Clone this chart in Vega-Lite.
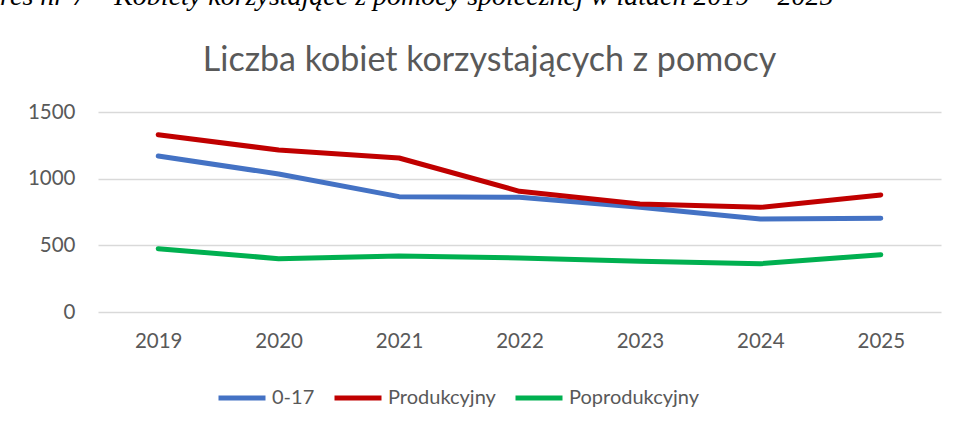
{
  "$schema": "https://vega.github.io/schema/vega-lite/v6.json",
  "width": 843,
  "height": 200,
  "autosize": {"type": "none"},
  "padding": {"left": 98, "top": 112, "right": 16, "bottom": 116},
  "background": "white",
  "data": {
    "values": [
      {"rok": "2019", "grupa": "0-17", "wartosc": 1170},
      {"rok": "2020", "grupa": "0-17", "wartosc": 1035},
      {"rok": "2021", "grupa": "0-17", "wartosc": 865},
      {"rok": "2022", "grupa": "0-17", "wartosc": 860},
      {"rok": "2023", "grupa": "0-17", "wartosc": 785},
      {"rok": "2024", "grupa": "0-17", "wartosc": 698},
      {"rok": "2025", "grupa": "0-17", "wartosc": 703},
      {"rok": "2019", "grupa": "Produkcyjny", "wartosc": 1330},
      {"rok": "2020", "grupa": "Produkcyjny", "wartosc": 1215},
      {"rok": "2021", "grupa": "Produkcyjny", "wartosc": 1155},
      {"rok": "2022", "grupa": "Produkcyjny", "wartosc": 905},
      {"rok": "2023", "grupa": "Produkcyjny", "wartosc": 810},
      {"rok": "2024", "grupa": "Produkcyjny", "wartosc": 785},
      {"rok": "2025", "grupa": "Produkcyjny", "wartosc": 878},
      {"rok": "2019", "grupa": "Poprodukcyjny", "wartosc": 475},
      {"rok": "2020", "grupa": "Poprodukcyjny", "wartosc": 400},
      {"rok": "2021", "grupa": "Poprodukcyjny", "wartosc": 420},
      {"rok": "2022", "grupa": "Poprodukcyjny", "wartosc": 405},
      {"rok": "2023", "grupa": "Poprodukcyjny", "wartosc": 380},
      {"rok": "2024", "grupa": "Poprodukcyjny", "wartosc": 362},
      {"rok": "2025", "grupa": "Poprodukcyjny", "wartosc": 430}
    ]
  },
  "mark": {"type": "line", "strokeWidth": 5, "strokeCap": "round", "strokeJoin": "round"},
  "encoding": {
    "x": {
      "field": "rok",
      "type": "ordinal",
      "scale": {"type": "point", "padding": 0.5},
      "axis": {
        "title": "Wykres nr 7 – Kobiety korzystające z pomocy społecznej w latach 2019 – 2025",
        "titleFont": "Liberation Serif",
        "titleFontStyle": "italic",
        "titleFontWeight": "normal",
        "titleFontSize": 28,
        "titleColor": "black",
        "titleX": 735,
        "titleY": -308,
        "titleAlign": "right",
        "titleBaseline": "alphabetic",
        "labelAngle": 0,
        "labelFont": "Lato",
        "labelFontSize": 20.5,
        "labelColor": "#595959",
        "labelPadding": 19,
        "ticks": false,
        "domain": false,
        "grid": false
      }
    },
    "y": {
      "field": "wartosc",
      "type": "quantitative",
      "scale": {"domain": [0, 1500]},
      "axis": {
        "title": "Liczba kobiet korzystających z pomocy",
        "titleFont": "Lato",
        "titleFontSize": 34,
        "titleFontWeight": "normal",
        "titleColor": "#595959",
        "titleAngle": 0,
        "titleAlign": "center",
        "titleBaseline": "alphabetic",
        "titleX": 391,
        "titleY": -42,
        "values": [0, 500, 1000, 1500],
        "format": "d",
        "grid": true,
        "gridColor": "#D9D9D9",
        "gridWidth": 1.5,
        "domain": false,
        "ticks": false,
        "labelPadding": 23,
        "labelFont": "Lato",
        "labelFontSize": 20.5,
        "labelColor": "#595959"
      }
    },
    "color": {
      "field": "grupa",
      "type": "nominal",
      "scale": {"domain": ["0-17", "Produkcyjny", "Poprodukcyjny"], "range": ["#4472C4", "#C00000", "#00B050"]},
      "legend": {
        "orient": "none",
        "legendX": 118,
        "legendY": 260,
        "direction": "horizontal",
        "title": null,
        "symbolType": "stroke",
        "symbolSize": 2209,
        "symbolStrokeWidth": 5,
        "labelFont": "Lato",
        "labelFontSize": 20,
        "labelColor": "#595959",
        "labelOffset": 4,
        "columnPadding": 9
      }
    }
  },
  "config": {"view": {"stroke": null}}
}
